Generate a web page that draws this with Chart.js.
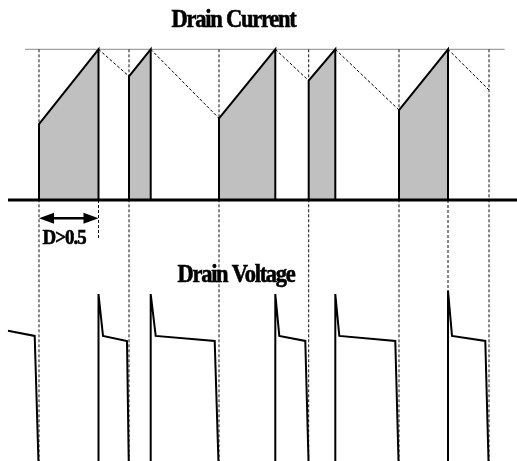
<!DOCTYPE html>
<html>
<head>
<meta charset="utf-8">
<script src="https://cdn.jsdelivr.net/npm/chart.js@4/dist/chart.umd.min.js"></script>
<style>
  html, body { margin: 0; padding: 0; background: #fff; }
  canvas { display: block; }
</style>
</head>
<body>
<canvas id="c" width="517" height="461"></canvas>
<script>
// ---------------- data (time in arbitrary units, current normalised to peak, voltage normalised to spike) ----
const titles = ["Drain Current", "Drain Voltage"];
const dutyLabel = "D>0.5";

// switching instants
const onTimes  = [39, 129, 219, 308.7, 399];        // switch turns on: current starts, voltage falls
const offTimes = [98.5, 150.7, 275.3, 335.3, 448];  // switch turns off: current peak, voltage rises
const currentStart = [0.504, 0.821, 0.542, 0.792, 0.597];
const currentPeak  = [1, 1, 1, 1, 1];
// dashed (inductor) current decays after turn-off
const decayEndTimes  = [129, 219, 308.7, 399, 489];
const decayEndValues = [0.821, 0.542, 0.792, 0.597, 0.73];

// dashed timing guides
const guideTimes      = [39, 129, 219, 308.7, 399, 489]; // from peak level to bottom
const shortGuideTimes = [98.5];                            // below baseline only (duty marker)
const shortGuideEnd   = [-0.252];
const longLowGuideTimes = [448];                          // below baseline to bottom

// drain voltage waveform
const vTimes  = [8, 34.7, 39, 98.5, 98.5, 103, 127, 129, 150.7, 150.7, 155.7, 214.7, 219,
                 275.3, 275.3, 279.3, 305.3, 309, 335.3, 335.3, 339.3, 395.3, 399,
                 448, 448, 452, 485.3, 489, 517];
const vValues = [0.802, 0.774, 0, 0, 1, 0.774, 0.747, 0, 0, 1, 0.774, 0.747, 0,
                 0, 1, 0.774, 0.747, 0, 0, 1, 0.774, 0.747, 0,
                 0, 1.018, 0.774, 0.747, 0, 0];

// duty-cycle arrow
const arrowFrom = 39, arrowTo = 98.5, arrowLevel = -0.121;
// reference lines
const peakLine = { from: 25, to: 504.7, value: 1 };
const baseLine = { from: 8, to: 517, value: 0 };

// ---------------- datasets ----------------
const datasets = [];
const line = (extra) => Object.assign({
  type: 'line', pointRadius: 0, tension: 0, fill: false, borderColor: '#000',
  borderWidth: 1, yAxisID: 'yc', spanGaps: false
}, extra);

// shaded switch-current pulses
onTimes.forEach((t, i) => {
  datasets.push(line({
    data: [{x: t, y: 0}, {x: t, y: currentStart[i]}, {x: offTimes[i], y: currentPeak[i]}, {x: offTimes[i], y: 0}],
    backgroundColor: '#c0c0c0', fill: 'origin', borderWidth: 2, order: 5
  }));
});
// dashed decays
offTimes.forEach((t, i) => {
  datasets.push(line({
    data: [{x: t, y: currentPeak[i]}, {x: decayEndTimes[i], y: decayEndValues[i]}],
    borderDash: [3, 2], borderWidth: 1, order: 4
  }));
});
// guides
const yc = { peakPx: 49.3, basePx: 200 };
guideTimes.forEach(t => {
  datasets.push(line({ data: [{x: t, y: 1}, {x: t, y: -3}], borderDash: [3, 2], borderColor: '#111', order: 6 }));
});
shortGuideTimes.forEach((t, i) => {
  datasets.push(line({ data: [{x: t, y: 0}, {x: t, y: shortGuideEnd[i]}], borderDash: [3, 2], borderColor: '#111', order: 6 }));
});
longLowGuideTimes.forEach(t => {
  datasets.push(line({ data: [{x: t, y: 0}, {x: t, y: -3}], borderDash: [3, 2], borderColor: '#111', order: 6 }));
});
// reference lines
datasets.push(line({ data: [{x: peakLine.from, y: peakLine.value}, {x: peakLine.to, y: peakLine.value}], borderColor: '#8a8a8a', borderWidth: 1, order: 7 }));
datasets.push(line({ data: [{x: baseLine.from, y: baseLine.value}, {x: baseLine.to, y: baseLine.value}], borderColor: '#000', borderWidth: 3, order: 1 }));
// drain voltage
datasets.push(line({ data: vTimes.map((t, i) => ({x: t, y: vValues[i]})), yAxisID: 'yv', borderWidth: 2, order: 2 }));

// ---------------- annotation plugin (text + arrow) ----------------
const annot = {
  id: 'annot',
  afterDatasetsDraw(chart) {
    const ctx = chart.ctx, xs = chart.scales.x, ys = chart.scales.yc;
    ctx.save();
    ctx.fillStyle = '#000';
    ctx.strokeStyle = '#000';
    const drawText = (txt, cx, by, size, ls, align) => {
      ctx.save();
      ctx.font = 'bold ' + size + 'px "Liberation Serif", "Times New Roman", serif';
      ctx.letterSpacing = ls + 'px';
      ctx.textBaseline = 'alphabetic';
      ctx.textAlign = 'left';
      const sx = 0.9;
      const w = ctx.measureText(txt).width * sx;
      const left = align === 'center' ? cx - w / 2 : cx;
      ctx.translate(left, by);
      ctx.scale(sx, 1);
      ctx.lineWidth = 0.6;
      ctx.fillText(txt, 0, 0);
      ctx.strokeText(txt, 0, 0);
      ctx.restore();
    };
    drawText(titles[0], 233.5, 26.5, 25, -1.4, 'center');
    drawText(titles[1], 236, 281.5, 25, -1.4, 'center');
    drawText(dutyLabel, 42.5, 244.3, 21, -1.1, 'left');

    // arrow
    const x1 = xs.getPixelForValue(arrowFrom), x2 = xs.getPixelForValue(arrowTo);
    const y = ys.getPixelForValue(arrowLevel);
    const hl = 15, hh = 5.5;
    ctx.lineWidth = 2.5;
    ctx.beginPath(); ctx.moveTo(x1 + hl - 2, y); ctx.lineTo(x2 - hl + 2, y); ctx.stroke();
    ctx.beginPath(); ctx.moveTo(x1, y); ctx.lineTo(x1 + hl, y - hh); ctx.lineTo(x1 + hl, y + hh); ctx.closePath(); ctx.fill();
    ctx.beginPath(); ctx.moveTo(x2, y); ctx.lineTo(x2 - hl, y - hh); ctx.lineTo(x2 - hl, y + hh); ctx.closePath(); ctx.fill();
    ctx.restore();
  }
};

// axis ranges so that current 0 sits on the baseline and voltage spikes line up
const H = 461;
const kc = yc.basePx - yc.peakPx;
const ycMax = 1 + yc.peakPx / kc, ycMin = -(H - yc.basePx) / kc;
const vSpikePx = 294, vBottom = 0.1;
const kv = (H - vSpikePx) / (1 - vBottom);
const yvMax = 1 + vSpikePx / kv;

new Chart(document.getElementById('c'), {
  type: 'line',
  data: { datasets },
  options: {
    responsive: false,
    animation: false,
    events: [],
    layout: { padding: 0 },
    plugins: { legend: { display: false }, tooltip: { enabled: false }, title: { display: false } },
    scales: {
      x:  { type: 'linear', min: 0, max: 517, display: false },
      yc: { type: 'linear', min: ycMin, max: ycMax, display: false },
      yv: { type: 'linear', min: vBottom, max: yvMax, display: false }
    }
  },
  plugins: [annot]
});
</script>
</body>
</html>
